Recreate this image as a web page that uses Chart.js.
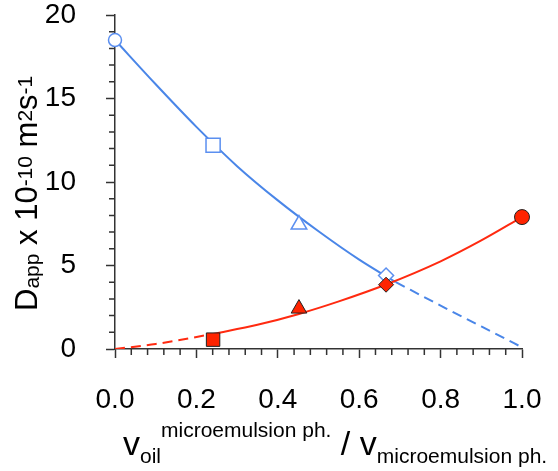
<!DOCTYPE html>
<html>
<head>
<meta charset="utf-8">
<script src="https://cdn.jsdelivr.net/npm/chart.js@4/dist/chart.umd.min.js"></script>
<style>
  html, body { margin: 0; padding: 0; background: #fff; }
  #wrap { width: 558px; height: 471px; position: relative; }
</style>
</head>
<body>
<div id="wrap"><canvas id="chart"></canvas></div>
<script>
// measured points (oil volume fraction in the microemulsion phase vs D_app, 1e-10 m2/s)
const blueX = [0.0, 0.241, 0.452, 0.666];
const blueD = [18.5, 12.2, 7.45, 4.4];
const redX = [0.241, 0.452, 0.666, 1.0];
const redD = [0.56, 2.42, 3.85, 7.9];

// fitted curves (solid inside the measured range, dashed where extrapolated)
const blueFitX = [0.0, 0.1, 0.2, 0.3, 0.4, 0.5, 0.6, 0.69];
const blueFitD = [18.5, 15.85, 13.3, 10.95, 8.9, 7.05, 5.35, 4.0];
const blueExtX = [0.69, 0.8, 0.9, 1.0];
const blueExtD = [4.0, 2.6, 1.35, 0.1];
const redExtX = [0.0, 0.1, 0.241];
const redExtD = [0.0, 0.3, 0.9];
const redFitX = [0.241, 0.35, 0.452, 0.55, 0.666, 0.8, 0.9, 1.0];
const redFitD = [0.9, 1.45, 2.1, 2.85, 3.86, 5.25, 6.5, 7.9];

const xTicks = [0.0, 0.2, 0.4, 0.6, 0.8, 1.0];
const yTicks = [0, 5, 10, 15, 20];

const BLUE = '#4a86e8';
const RED = '#ff2a10';
const AXIS = '#333';
const FONT = '"Liberation Sans", Arial, sans-serif';

const pts = (xs, ys) => xs.map((x, i) => ({ x, y: ys[i] }));
const blueShapes = ['circle', 'rect', 'triangle', 'rectRot'];
const blueSizes = [6.5, 10, 9, 7.5];
const redShapes = ['rect', 'triangle', 'rectRot', 'circle'];
const redSizes = [9.5, 9, 7.5, 7.5];

function curve(xs, ys, color, dash, order) {
  return {
    data: pts(xs, ys), showLine: true, borderColor: color, borderWidth: 2,
    borderDash: dash, pointRadius: 0, pointHoverRadius: 0,
    cubicInterpolationMode: 'monotone', order
  };
}

// keep the plot box fixed: no extra room for overhanging tick labels
function noOverhang(s) {
  s.paddingTop = 0; s.paddingBottom = 0;
  s.paddingLeft = 0; s.paddingRight = 0;
}

// minor ticks and the sub/superscript axis titles
const decor = {
  id: 'decor',
  afterDraw(chart) {
    const { ctx, scales: { x, y } } = chart;
    ctx.save();
    ctx.strokeStyle = AXIS;
    ctx.lineWidth = 1.5;
    ctx.beginPath();
    for (let i = 1; i < 25; i++) {
      if (i % 5 === 0) continue;
      const px = x.getPixelForValue(i * 0.04);
      ctx.moveTo(px, y.bottom);
      ctx.lineTo(px, y.bottom + 6);
    }
    for (let i = 1; i < 20; i++) {
      if (i % 5 === 0) continue;
      const py = y.getPixelForValue(i);
      ctx.moveTo(x.left, py);
      ctx.lineTo(x.left - 6, py);
    }
    ctx.stroke();

    ctx.fillStyle = '#000';
    ctx.textBaseline = 'alphabetic';
    ctx.textAlign = 'left';
    const run = (parts, x0, y0) => {
      let cx = x0;
      for (const [txt, size, dy] of parts) {
        ctx.font = size + 'px ' + FONT;
        ctx.fillText(txt, cx, y0 + dy);
        cx += ctx.measureText(txt).width;
      }
    };

    // x title
    run([
      ['v', 34, 0], ['oil', 21, 8], ['microemulsion ph.', 21, -18],
      [' / v', 34, 0], ['microemulsion ph.', 21, 8]
    ], 123, 455);

    // y title, rotated
    ctx.translate(37, 311);
    ctx.rotate(-Math.PI / 2);
    run([
      ['D', 31, 0], ['app', 21, 2], [' x 10', 31, 0], ['-10', 21, -5],
      [' m', 31, 0], ['2', 21, -5], ['s', 31, 0], ['-1', 21, -5]
    ], 0, 0);
    ctx.restore();
  }
};

new Chart(document.getElementById('chart'), {
  type: 'scatter',
  data: {
    datasets: [
      curve(blueFitX, blueFitD, BLUE, [], 5),
      curve(blueExtX, blueExtD, BLUE, [10, 6], 5),
      curve(redFitX, redFitD, RED, [], 4),
      curve(redExtX, redExtD, RED, [10, 6], 4),
      {
        data: pts(blueX, blueD), showLine: false, clip: false, order: 2,
        pointStyle: blueShapes, pointRadius: blueSizes, pointHoverRadius: blueSizes,
        backgroundColor: '#fff', borderColor: '#5b8ff0', borderWidth: 1.5
      },
      {
        data: pts(redX, redD), showLine: false, clip: false, order: 1,
        pointStyle: redShapes, pointRadius: redSizes, pointHoverRadius: redSizes,
        backgroundColor: '#ff2400', borderColor: '#222', borderWidth: 1
      }
    ]
  },
  options: {
    responsive: true,
    maintainAspectRatio: false,
    animation: false,
    events: [],
    layout: { padding: { left: 0, top: 15, right: 36, bottom: 0 } },
    plugins: { legend: { display: false }, tooltip: { enabled: false } },
    scales: {
      x: {
        type: 'linear', min: 0, max: 1,
        afterBuildTicks: s => { s.ticks = xTicks.map(v => ({ value: v })); },
        afterFit: s => { s.height = 122; noOverhang(s); },
        ticks: { color: '#000', padding: 25, font: { family: FONT, size: 28 },
                 callback: v => v.toFixed(1) },
        grid: { drawOnChartArea: false, tickLength: 9, tickColor: AXIS, tickWidth: 1.5 },
        border: { color: AXIS, width: 1.5 }
      },
      y: {
        type: 'linear', min: 0, max: 20,
        afterBuildTicks: s => { s.ticks = yTicks.map(v => ({ value: v })); },
        afterFit: s => { s.width = 115; noOverhang(s); },
        ticks: { color: '#000', padding: 30, font: { family: FONT, size: 28 } },
        grid: { drawOnChartArea: false, tickLength: 9, tickColor: AXIS, tickWidth: 1.5 },
        border: { color: AXIS, width: 1.5 }
      }
    }
  },
  plugins: [decor]
});
</script>
</body>
</html>
